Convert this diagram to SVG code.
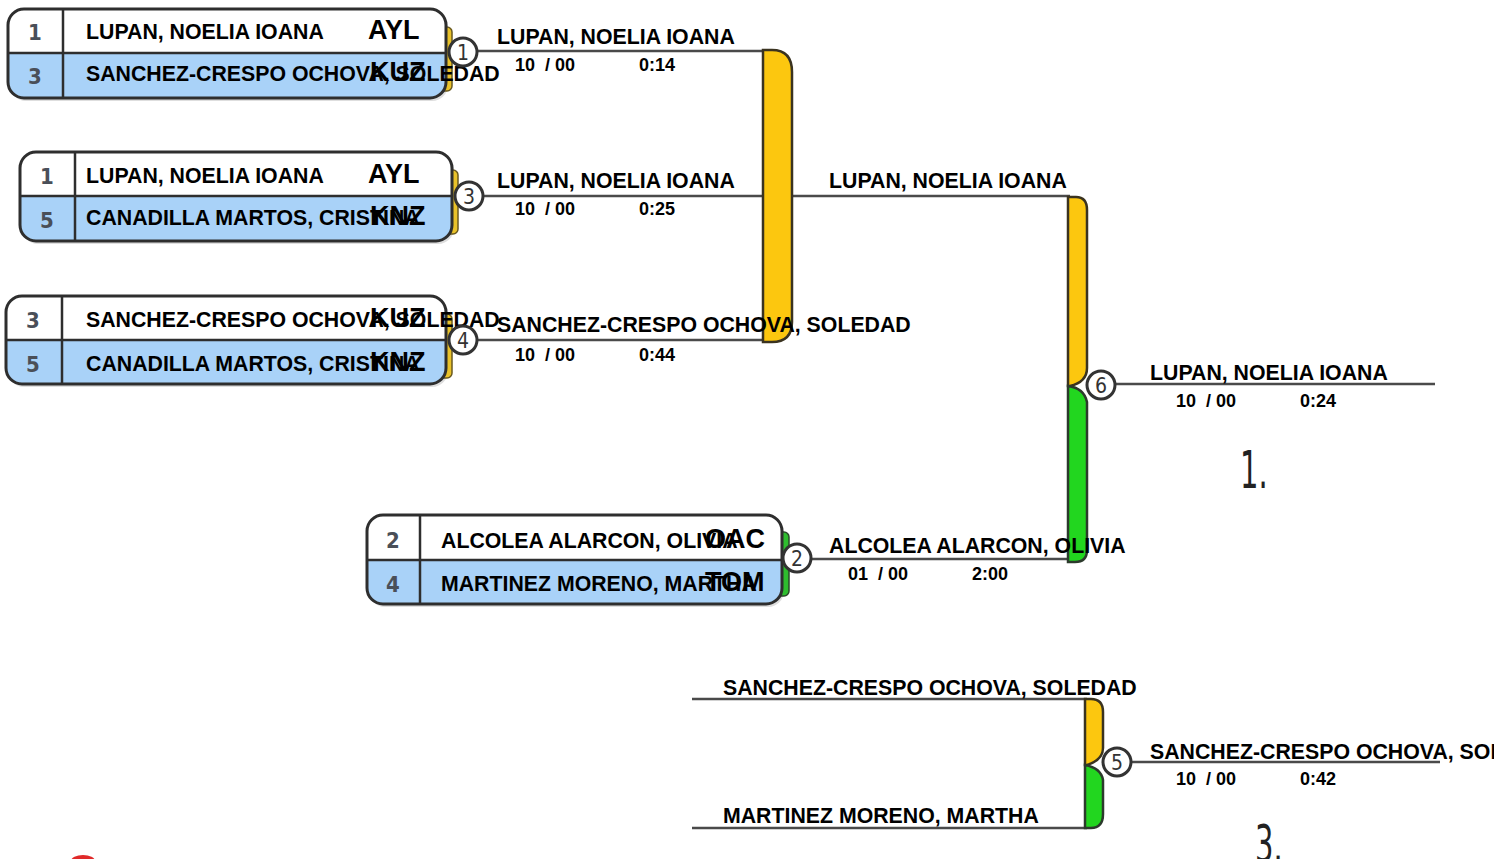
<svg xmlns="http://www.w3.org/2000/svg" width="1494" height="859" viewBox="0 0 1494 859">
<style>
.bx{fill:none;stroke:#2e2e2e;stroke-width:3}
.top{fill:#ffffff}
.bot{fill:#a9d2f8}
.dv{stroke:#2e2e2e;stroke-width:2.5}
.seed{font-family:"DejaVu Sans Condensed","DejaVu Sans",sans-serif;font-size:22px;font-weight:bold;fill:#4a4f58;text-anchor:middle}
.nm{font-family:"Liberation Sans",Arial,sans-serif;font-size:21.3px;font-weight:bold;fill:#000}
.cd{font-family:"Liberation Sans",Arial,sans-serif;font-size:27px;font-weight:bold;fill:#000}
.sc{font-family:"Liberation Sans",Arial,sans-serif;font-size:18px;font-weight:bold;fill:#000}
.ln{stroke:#4a4a4a;stroke-width:2.5;fill:none}
.ci{fill:#fff;stroke:#333;stroke-width:3}
.cn{font-family:"DejaVu Sans Condensed","DejaVu Sans",sans-serif;font-size:21px;fill:#333;text-anchor:middle}
.yl{fill:#fcc70f;stroke:#3a3320;stroke-width:2.5}
.gr{fill:#22d61f;stroke:#2c3a2c;stroke-width:2.5}
.tabY{fill:#e9c22a;stroke:#6a5a20;stroke-width:1.5}
.tabG{fill:#2ebd2e;stroke:#2a4a2a;stroke-width:1.5}
.big{font-family:"DejaVu Sans Condensed","DejaVu Sans",sans-serif;font-size:52px;fill:#222}
.sh{fill:#bdbdbd;opacity:0.5}
</style>

<g id="connectors">
<line class="ln" x1="476" y1="51" x2="765" y2="51"/>
<line class="ln" x1="482" y1="196" x2="765" y2="196"/>
<line class="ln" x1="476" y1="340" x2="765" y2="340"/>
<line class="ln" x1="792" y1="196" x2="1070" y2="196"/>
<line class="ln" x1="810" y1="559" x2="1070" y2="559"/>
<line class="ln" x1="1114" y1="384" x2="1435" y2="384"/>
<line class="ln" x1="692" y1="699" x2="1087" y2="699"/>
<line class="ln" x1="692" y1="828" x2="1087" y2="828"/>
<line class="ln" x1="1130" y1="762" x2="1440" y2="762"/>
<path class="yl" d="M763,50 H772 Q792,50 792,72 V322 Q792,342 772,342 H763 Z"/>
<path class="yl" d="M1068,197 H1076 Q1087,197 1087,210 V368 Q1087,382 1070,386 H1068 Z"/>
<path class="gr" d="M1068,386 Q1084,388 1087,402 V550 Q1087,562 1075,562 H1068 Z"/>
<path class="yl" d="M1085,699 H1091 Q1103,699 1103,712 V748 Q1103,760 1087,765 H1085 Z"/>
<path class="gr" d="M1085,765 Q1101,768 1103,780 V814 Q1103,828 1091,828 H1085 Z"/>
</g>

<g id="match1">
<rect class="sh" x="10" y="12" width="438" height="89" rx="16"/>
<rect class="tabY" x="439" y="27" width="13" height="64" rx="5"/>
<rect class="top" x="8" y="9" width="438" height="89" rx="16"/>
<path class="bot" d="M8,53 H446 V82 Q446,98 430,98 H24 Q8,98 8,82 Z"/>
<line class="dv" x1="8" y1="53" x2="446" y2="53"/>
<line class="dv" x1="63" y1="9" x2="63" y2="98"/>
<rect class="bx" x="8" y="9" width="438" height="89" rx="16"/>
<text class="seed" x="35" y="40">1</text>
<text class="seed" x="35" y="84">3</text>
<text class="nm" x="86" y="39">LUPAN, NOELIA IOANA</text>
<text class="cd" x="368" y="39">AYL</text>
<text class="nm" x="86" y="81">SANCHEZ-CRESPO OCHOVA, SOLEDAD</text>
<text class="cd" x="370" y="81">KUZ</text>
<circle class="ci" cx="463" cy="52" r="14"/>
<text class="cn" x="463" y="60">1</text>
<text class="nm" x="497" y="44">LUPAN, NOELIA IOANA</text>
<text class="sc" x="515" y="71" xml:space="preserve">10  / 00</text>
<text class="sc" x="639" y="71">0:14</text>
</g>

<g id="match3">
<rect class="sh" x="22" y="155" width="432" height="89" rx="16"/>
<rect class="tabY" x="445" y="170" width="13" height="64" rx="5"/>
<rect class="top" x="20" y="152" width="432" height="89" rx="16"/>
<path class="bot" d="M20,196 H452 V225 Q452,241 436,241 H36 Q20,241 20,225 Z"/>
<line class="dv" x1="20" y1="196" x2="452" y2="196"/>
<line class="dv" x1="75" y1="152" x2="75" y2="241"/>
<rect class="bx" x="20" y="152" width="432" height="89" rx="16"/>
<text class="seed" x="47" y="184">1</text>
<text class="seed" x="47" y="228">5</text>
<text class="nm" x="86" y="183">LUPAN, NOELIA IOANA</text>
<text class="cd" x="368" y="183">AYL</text>
<text class="nm" x="86" y="225">CANADILLA MARTOS, CRISTINA</text>
<text class="cd" x="370" y="225">KNZ</text>
<circle class="ci" cx="469" cy="196" r="14"/>
<text class="cn" x="469" y="204">3</text>
<text class="nm" x="497" y="188">LUPAN, NOELIA IOANA</text>
<text class="sc" x="515" y="215" xml:space="preserve">10  / 00</text>
<text class="sc" x="639" y="215">0:25</text>
</g>

<g id="match4">
<rect class="sh" x="8" y="299" width="440" height="88" rx="16"/>
<rect class="tabY" x="439" y="314" width="13" height="64" rx="5"/>
<rect class="top" x="6" y="296" width="440" height="88" rx="16"/>
<path class="bot" d="M6,340 H446 V368 Q446,384 430,384 H22 Q6,384 6,368 Z"/>
<line class="dv" x1="6" y1="340" x2="446" y2="340"/>
<line class="dv" x1="62" y1="296" x2="62" y2="384"/>
<rect class="bx" x="6" y="296" width="440" height="88" rx="16"/>
<text class="seed" x="33" y="328">3</text>
<text class="seed" x="33" y="372">5</text>
<text class="nm" x="86" y="327">SANCHEZ-CRESPO OCHOVA, SOLEDAD</text>
<text class="cd" x="370" y="327">KUZ</text>
<text class="nm" x="86" y="371">CANADILLA MARTOS, CRISTINA</text>
<text class="cd" x="370" y="371">KNZ</text>
<circle class="ci" cx="463" cy="340" r="14"/>
<text class="cn" x="463" y="348">4</text>
<text class="nm" x="497" y="332">SANCHEZ-CRESPO OCHOVA, SOLEDAD</text>
<text class="sc" x="515" y="361" xml:space="preserve">10  / 00</text>
<text class="sc" x="639" y="361">0:44</text>
</g>

<g id="match2">
<rect class="sh" x="369" y="518" width="415" height="89" rx="16"/>
<rect class="tabG" x="776" y="532" width="13" height="64" rx="5"/>
<rect class="top" x="367" y="515" width="415" height="89" rx="16"/>
<path class="bot" d="M367,560 H782 V588 Q782,604 766,604 H383 Q367,604 367,588 Z"/>
<line class="dv" x1="367" y1="560" x2="782" y2="560"/>
<line class="dv" x1="420" y1="515" x2="420" y2="604"/>
<rect class="bx" x="367" y="515" width="415" height="89" rx="16"/>
<text class="seed" x="393" y="548">2</text>
<text class="seed" x="393" y="592">4</text>
<text class="nm" x="441" y="548">ALCOLEA ALARCON, OLIVIA</text>
<text class="cd" x="705" y="548">OAC</text>
<text class="nm" x="441" y="591">MARTINEZ MORENO, MARTHA</text>
<text class="cd" x="705" y="591">TOM</text>
<circle class="ci" cx="797" cy="558" r="14"/>
<text class="cn" x="797" y="566">2</text>
<text class="nm" x="829" y="553">ALCOLEA ALARCON, OLIVIA</text>
<text class="sc" x="848" y="580" xml:space="preserve">01  / 00</text>
<text class="sc" x="972" y="580">2:00</text>
</g>

<g id="match6">
<text class="nm" x="829" y="188">LUPAN, NOELIA IOANA</text>
<circle class="ci" cx="1101" cy="385" r="14"/>
<text class="cn" x="1101" y="393">6</text>
<text class="nm" x="1150" y="380">LUPAN, NOELIA IOANA</text>
<text class="sc" x="1176" y="407" xml:space="preserve">10  / 00</text>
<text class="sc" x="1300" y="407">0:24</text>
<text class="big" x="1240" y="488" transform="translate(1240,488) scale(0.62,1) translate(-1240,-488)">1.</text>
</g>

<g id="match5">
<text class="nm" x="723" y="695">SANCHEZ-CRESPO OCHOVA, SOLEDAD</text>
<text class="nm" x="723" y="823">MARTINEZ MORENO, MARTHA</text>
<circle class="ci" cx="1117" cy="762" r="14"/>
<text class="cn" x="1117" y="770">5</text>
<text class="nm" x="1150" y="759">SANCHEZ-CRESPO OCHOVA, SOLEDAD</text>
<text class="sc" x="1176" y="785" xml:space="preserve">10  / 00</text>
<text class="sc" x="1300" y="785">0:42</text>
<text class="big" x="1255" y="862" transform="translate(1255,862) scale(0.62,1) translate(-1255,-862)">3.</text>
</g>

<ellipse cx="83" cy="861" rx="12" ry="6" fill="#e02a2a"/>
</svg>
